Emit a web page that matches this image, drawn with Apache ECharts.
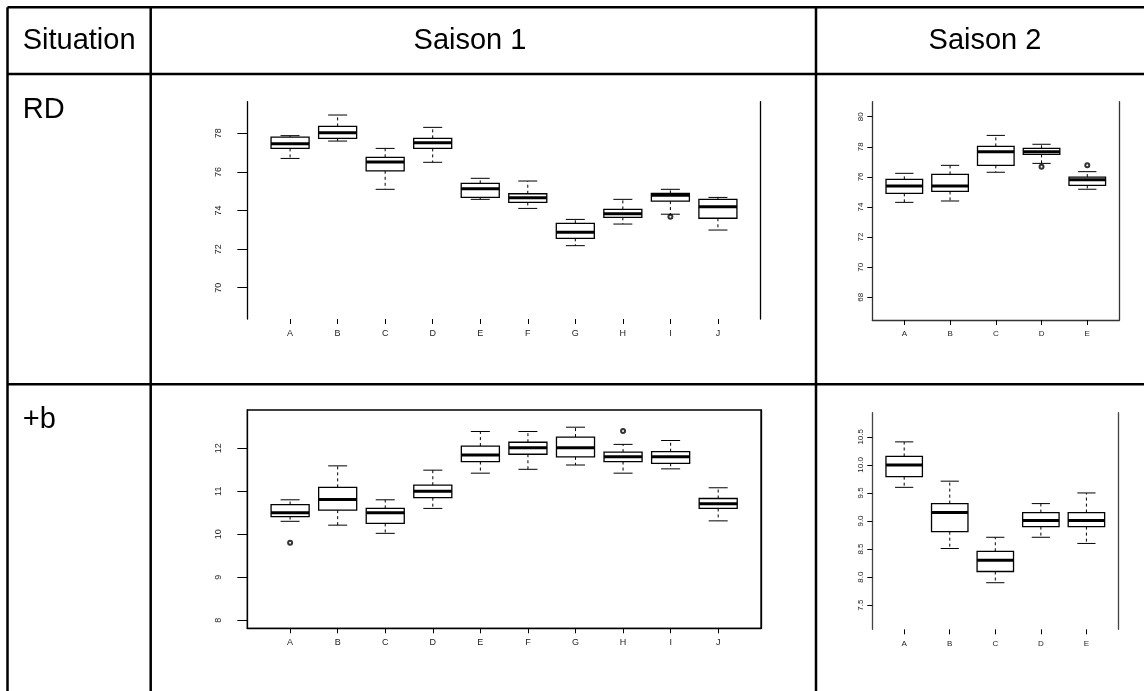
<!DOCTYPE html>
<html>
<head>
<meta charset="utf-8">
<script src="https://cdn.jsdelivr.net/npm/echarts@6/dist/echarts.min.js"></script>
<style>html,body{margin:0;padding:0;background:#fff;}#c{width:1144px;height:691px;}</style>
</head>
<body>
<div id="c"></div>
<script>
// ---- categories ----
const s1Cats = ['A','B','C','D','E','F','G','H','I','J'];
const s2Cats = ['A','B','C','D','E'];
// ---- tick labels ----
const rdS1Ticks = [70,72,74,76,78];
const rdS2Ticks = [68,70,72,74,76,78,80];
const bS1Ticks = [8,9,10,11,12];
const bS2Ticks = [7.5,8.0,8.5,9.0,9.5,10.0,10.5];
// ---- box values: [min, Q1, median, Q3, max] ----
const rdS1 = [
  [76.70,77.22,77.46,77.80,77.88],
  [77.60,77.74,78.03,78.36,78.95],
  [75.10,76.06,76.51,76.76,77.22],
  [76.50,77.22,77.51,77.74,78.31],
  [74.58,74.68,75.13,75.41,75.67],
  [74.11,74.42,74.66,74.87,75.53],
  [72.18,72.56,72.87,73.34,73.54],
  [73.30,73.65,73.83,74.06,74.58],
  [73.81,74.49,74.79,74.89,75.10],
  [72.99,73.60,74.20,74.58,74.68]
];
const rdS1Out = [[9,73.68]];
const rdS2 = [
  [74.31,74.91,75.40,75.84,76.24],
  [74.40,75.04,75.40,76.17,76.77],
  [76.31,76.77,77.67,78.03,78.76],
  [76.90,77.50,77.67,77.90,78.17],
  [75.18,75.44,75.81,75.99,76.35]
];
const rdS2Out = [[4,76.68],[5,76.77]];
const bS1 = [
  [10.30,10.41,10.50,10.69,10.80],
  [10.21,10.56,10.81,11.09,11.59],
  [10.02,10.25,10.50,10.60,10.80],
  [10.60,10.85,11.00,11.14,11.49],
  [11.42,11.69,11.84,12.05,12.39],
  [11.51,11.86,12.01,12.14,12.39],
  [11.61,11.80,12.01,12.26,12.49],
  [11.42,11.69,11.80,11.91,12.09],
  [11.52,11.65,11.80,11.92,12.18],
  [10.31,10.60,10.71,10.83,11.08]
];
const bS1Out = [[1,9.80],[8,12.40]];
const bS2 = [
  [9.60,9.79,10.00,10.15,10.41],
  [8.51,8.81,9.15,9.31,9.71],
  [7.90,8.10,8.30,8.46,8.71],
  [8.71,8.90,9.01,9.15,9.31],
  [8.60,8.90,9.01,9.15,9.50]
];
const bS2Out = [];

const chart = echarts.init(document.getElementById('c'));

function renderBox(params, api) {
  const x = api.value(0);
  const ys = [1,2,3,4,5].map(i => api.coord([x, api.value(i)])[1]);
  const cx = api.coord([x, api.value(3)])[0];
  const hw = api.size([0.4, 0])[0];
  const cw = api.size([0.2, 0])[0];
  const dash = {stroke:'#000', lineWidth:1, lineDash:[3,3]};
  const solid = {stroke:'#000', lineWidth:1};
  return {type:'group', children:[
    {type:'line', shape:{x1:cx,y1:ys[3],x2:cx,y2:ys[4]}, style:dash},
    {type:'line', shape:{x1:cx,y1:ys[1],x2:cx,y2:ys[0]}, style:dash},
    {type:'line', shape:{x1:cx-cw,y1:ys[4],x2:cx+cw,y2:ys[4]}, style:solid},
    {type:'line', shape:{x1:cx-cw,y1:ys[0],x2:cx+cw,y2:ys[0]}, style:solid},
    {type:'rect', shape:{x:cx-hw,y:ys[3],width:2*hw,height:ys[1]-ys[3]}, style:{stroke:'#000',fill:'#fff',lineWidth:1.3}},
    {type:'line', shape:{x1:cx-hw,y1:ys[2],x2:cx+hw,y2:ys[2]}, style:{stroke:'#000',lineWidth:3}}
  ]};
}

const panels = [
  {grid:{left:247.3, top:101.7, width:513.4, height:217.3}, x:[0.1,10.9], y:[68.38,79.64], cats:s1Cats, ticks:rdS1Ticks, dec:0, box:rdS1, out:rdS1Out, bottomLine:false, frame:false, tickLen:10, yMargin:24, fs:9, lc:'#000'},
  {grid:{left:247.3, top:410, width:513.7, height:218.3}, x:[0.1,10.9], y:[7.81,12.89], cats:s1Cats, ticks:bS1Ticks, dec:0, box:bS1, out:bS1Out, bottomLine:true, frame:true, tickLen:10, yMargin:24, fs:9, lc:'#000'},
  {grid:{left:872.3, top:101.7, width:247, height:218.3}, x:[0.3,5.7], y:[66.49,81.0], cats:s2Cats, ticks:rdS2Ticks, dec:0, box:rdS2, out:rdS2Out, bottomLine:true, frame:false, tickLen:5, yMargin:8, fs:8, lc:'#333'},
  {grid:{left:872.3, top:412.7, width:246, height:216.6}, x:[0.3,5.7], y:[7.07,10.93], cats:s2Cats, ticks:bS2Ticks, dec:1, box:bS2, out:bS2Out, bottomLine:false, frame:false, tickLen:5, yMargin:8, fs:8, lc:'#444'}
];

const grids = [], xAxes = [], yAxes = [], series = [];
panels.forEach((p, i) => {
  grids.push(Object.assign({show:p.frame, borderColor:'#000', borderWidth:1.3, backgroundColor:'transparent'}, p.grid));
  const xVals = p.cats.map((c, k) => k + 1);
  xAxes.push({
    type:'value', gridIndex:i, min:p.x[0], max:p.x[1],
    axisLine:{show:p.bottomLine, lineStyle:{color:p.lc, width:1.3}},
    axisTick:{show:true, length:5, customValues:xVals, lineStyle:{color:'#000'}},
    axisLabel:{customValues:xVals, margin:10, fontSize:p.fs, color:'#222', fontFamily:'Liberation Sans',
      formatter:v => p.cats[Math.round(v) - 1] || ''},
    splitLine:{show:false}
  });
  yAxes.push({
    type:'value', gridIndex:i, min:p.y[0], max:p.y[1], position:'left',
    axisLine:{show:true, lineStyle:{color:p.lc, width:1.3}},
    axisTick:{show:true, length:p.tickLen, customValues:p.ticks, lineStyle:{color:'#000'}},
    axisLabel:{customValues:p.ticks, rotate:90, margin:p.yMargin, fontSize:p.fs, color:'#222', fontFamily:'Liberation Sans',
      formatter:v => Number(v).toFixed(p.dec)},
    splitLine:{show:false}
  });
  yAxes.push({
    type:'value', gridIndex:i, min:p.y[0], max:p.y[1], position:'right',
    axisLine:{show:true, lineStyle:{color:p.lc, width:1.3}},
    axisTick:{show:false}, axisLabel:{show:false}, splitLine:{show:false}
  });
  series.push({
    type:'custom', xAxisIndex:i, yAxisIndex:2*i, renderItem:renderBox,
    encode:{x:0, y:[1,2,3,4,5]}, silent:true,
    data:p.box.map((b, k) => [k + 1].concat(b))
  });
  series.push({
    type:'scatter', xAxisIndex:i, yAxisIndex:2*i, symbol:'emptyCircle', symbolSize:4, silent:true,
    itemStyle:{color:'#000', borderColor:'#000', borderWidth:0.9},
    data:p.out
  });
});

const L = {stroke:'#000', lineWidth:2.5};
const T = (x, y, text, align) => ({type:'text', x:x, y:y, style:{text:text, font:'29px "Liberation Sans", Arial, sans-serif', fill:'#000', textAlign:align || 'left', textVerticalAlign:'middle'}});

chart.setOption({
  animation:false,
  grid:grids, xAxis:xAxes, yAxis:yAxes, series:series,
  graphic:[
    {type:'line', shape:{x1:7.5, y1:7.3, x2:1144, y2:7.3}, style:L},
    {type:'line', shape:{x1:7.5, y1:74, x2:1144, y2:74}, style:L},
    {type:'line', shape:{x1:7.5, y1:384.3, x2:1144, y2:384.3}, style:L},
    {type:'line', shape:{x1:7.5, y1:7.3, x2:7.5, y2:691}, style:L},
    {type:'line', shape:{x1:150.7, y1:7.3, x2:150.7, y2:691}, style:L},
    {type:'line', shape:{x1:816, y1:7.3, x2:816, y2:691}, style:L},
    T(22.7, 41, 'Situation'),
    T(470, 41, 'Saison 1', 'center'),
    T(985, 41, 'Saison 2', 'center'),
    T(22.7, 110, 'RD'),
    T(22.7, 420, '+b')
  ]
});
</script>
</body>
</html>
